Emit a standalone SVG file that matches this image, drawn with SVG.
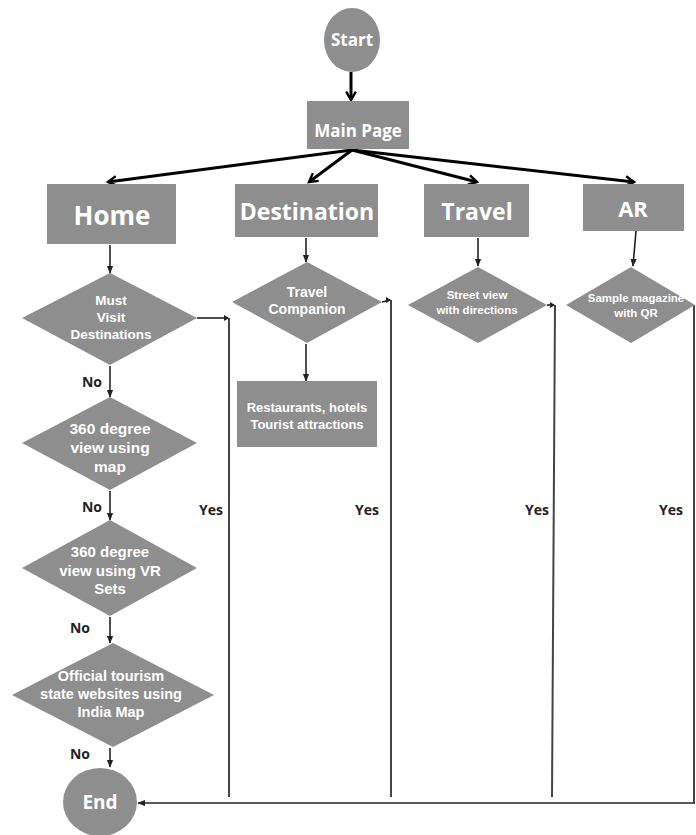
<svg xmlns="http://www.w3.org/2000/svg" width="696" height="835" viewBox="0 0 696 835">
<style>
.n{fill:#8e8e8e}
.t{font-family:"Open Sans","Liberation Sans",sans-serif;font-weight:700;fill:#ffffff;text-anchor:middle}
.m{font-family:"Liberation Sans","Arial",sans-serif;font-weight:700;fill:#ffffff;text-anchor:middle}
.l{font-family:"Open Sans","Liberation Sans",sans-serif;font-weight:700;fill:#222;font-size:14px;text-anchor:middle}
.big{stroke:#000;stroke-width:3;fill:none}
.thin{stroke:#222;stroke-width:1.6;fill:none}
.g{stroke:#444;stroke-width:2;fill:none}
</style>
<defs>
<marker id="ab" viewBox="0 0 10 10" refX="8" refY="5" markerWidth="4" markerHeight="4" orient="auto" markerUnits="strokeWidth"><path d="M1,1 L8,5 L1,9" fill="none" stroke="#000" stroke-width="2"/></marker>
<marker id="as" viewBox="0 0 10 10" refX="9" refY="5" markerWidth="5" markerHeight="5" orient="auto" markerUnits="strokeWidth"><path d="M0,1 L10,5 L0,9 Z" fill="#222"/></marker>
</defs>
<g id="connectors">
<line class="big" x1="351" y1="72" x2="351" y2="100" marker-end="url(#ab)"/>
<line class="big" x1="352" y1="150" x2="108" y2="182" marker-end="url(#ab)"/>
<line class="big" x1="352" y1="150" x2="309" y2="182" marker-end="url(#ab)"/>
<line class="big" x1="352" y1="150" x2="477" y2="182" marker-end="url(#ab)"/>
<line class="big" x1="352" y1="150" x2="634" y2="182" marker-end="url(#ab)"/>
<line class="thin" x1="110" y1="245" x2="110" y2="273" marker-end="url(#as)"/>
<line class="thin" x1="110" y1="366" x2="110" y2="397" marker-end="url(#as)"/>
<line class="thin" x1="110" y1="491" x2="110" y2="520" marker-end="url(#as)"/>
<line class="thin" x1="110" y1="617" x2="110" y2="643" marker-end="url(#as)"/>
<line class="thin" x1="110" y1="748" x2="110" y2="767" marker-end="url(#as)"/>
<line class="thin" x1="306" y1="238" x2="306" y2="262" marker-end="url(#as)"/>
<line class="thin" x1="306" y1="344" x2="306" y2="381" marker-end="url(#as)"/>
<line class="thin" x1="478" y1="238" x2="478" y2="266" marker-end="url(#as)"/>
<line class="thin" x1="636" y1="231" x2="633" y2="266" marker-end="url(#as)"/>
<polyline class="thin" points="197,318 228,318"/>
<path d="M224,315 L229,318 L224,321 Z" fill="#222"/>
<line class="g" x1="229" y1="318" x2="229" y2="797"/>
<polyline class="thin" points="382,302 390,300"/>
<path d="M386,297 L391,300 L386,303 Z" fill="#222"/>
<line class="g" x1="391" y1="300" x2="391" y2="797"/>
<polyline class="thin" points="547,305 554,305"/>
<path d="M550,302 L555,305 L550,308 Z" fill="#222"/>
<line class="g" x1="555" y1="305" x2="552" y2="797"/>
<line class="g" x1="694" y1="305" x2="694" y2="803"/>
<line class="thin" x1="695" y1="803" x2="138" y2="803" marker-end="url(#as)"/>
</g>
<g id="start"><ellipse class="n" cx="352" cy="40" rx="28" ry="32"/><text class="t" x="352" y="46" font-size="17">Start</text></g>
<g id="main"><rect class="n" x="307" y="101" width="102" height="48"/><text class="t" x="358" y="137" font-size="17">Main Page</text></g>
<g id="home"><rect class="n" x="47" y="184" width="129" height="60"/><text class="t" x="112" y="225" font-size="26">Home</text></g>
<g id="destination"><rect class="n" x="235" y="184" width="143" height="53"/><text class="t" x="307" y="220" font-size="23">Destination</text></g>
<g id="travel"><rect class="n" x="424" y="184" width="105" height="53"/><text class="t" x="477" y="220" font-size="23">Travel</text></g>
<g id="ar"><rect class="n" x="583" y="184" width="101" height="47"/><text class="t" x="633" y="217" font-size="22">AR</text></g>
<g id="must"><polygon class="n" points="110,273 197,318 110,365 22,318"/><text class="m" font-size="13.5"><tspan x="111" y="305">Must</tspan><tspan x="111" y="322">Visit</tspan><tspan x="111" y="339">Destinations</tspan></text></g>
<g id="map360"><polygon class="n" points="110,397 197,443 110,490 22,443"/><text class="m" font-size="15.5"><tspan x="110" y="434">360 degree</tspan><tspan x="110" y="453">view using</tspan><tspan x="110" y="472">map</tspan></text></g>
<g id="vr360"><polygon class="n" points="110,520 197,568 110,616 22,568"/><text class="m" font-size="15"><tspan x="110" y="557">360 degree</tspan><tspan x="110" y="576">view  using VR</tspan><tspan x="110" y="594">Sets</tspan></text></g>
<g id="official"><polygon class="n" points="113,643 214,695 113,747 12,695"/><text class="m" font-size="14.5"><tspan x="111" y="681">Official tourism</tspan><tspan x="111" y="699">state websites using</tspan><tspan x="111" y="717">India Map</tspan></text></g>
<g id="end"><ellipse class="n" cx="100" cy="802" rx="37" ry="34"/><text class="t" x="100" y="809" font-size="19">End</text></g>
<g id="companion"><polygon class="n" points="307,262 382,302 307,343 232,302"/><text class="m" font-size="14"><tspan x="307" y="297">Travel</tspan><tspan x="307" y="314">Companion</tspan></text></g>
<g id="restaurants"><rect class="n" x="237" y="381" width="140" height="66"/><text class="m" font-size="13"><tspan x="307" y="412">Restaurants, hotels</tspan><tspan x="307" y="429">Tourist attractions</tspan></text></g>
<g id="street"><polygon class="n" points="478,267 547,305 478,343 408,305"/><text class="m" font-size="11.5"><tspan x="477" y="299">Street view</tspan><tspan x="477" y="314">with directions</tspan></text></g>
<g id="sample"><polygon class="n" points="631,267 695,305 631,343 566,305"/><text class="m" font-size="11.5"><tspan x="636" y="302">Sample magazine</tspan><tspan x="636" y="317">with QR</tspan></text></g>
<g id="labels">
<text class="l" x="92" y="387">No</text>
<text class="l" x="92" y="512">No</text>
<text class="l" x="80" y="633">No</text>
<text class="l" x="80" y="759">No</text>
<text class="l" x="211" y="515">Yes</text>
<text class="l" x="367" y="515">Yes</text>
<text class="l" x="537" y="515">Yes</text>
<text class="l" x="671" y="515">Yes</text>
</g>
</svg>
